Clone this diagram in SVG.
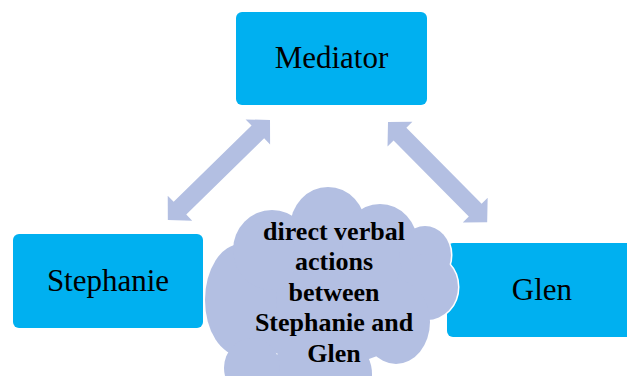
<svg xmlns="http://www.w3.org/2000/svg" xmlns:xlink="http://www.w3.org/1999/xlink" width="627" height="376" viewBox="0 0 627 376">
  <style>
    .box { fill: #00b0f0; }
    .label { font-family: "Liberation Serif", "Times New Roman", serif; font-size: 31px; fill: #000; text-anchor: middle; }
    .cloud-text { font-family: "Liberation Serif", "Times New Roman", serif; font-size: 26px; font-weight: bold; fill: #000; text-anchor: middle; }
    .arrow { fill: #b3bfe2; }
  </style>
  <defs>
    <!-- cloud built from overlapping lobes -->
    <g id="cloud-lobes">
      <ellipse cx="330" cy="290" rx="100" ry="75"/>
      <ellipse cx="241" cy="300" rx="36" ry="56"/>
      <ellipse cx="272" cy="250" rx="39" ry="40"/>
      <ellipse cx="328" cy="228" rx="38" ry="41"/>
      <ellipse cx="380" cy="245" rx="38" ry="41"/>
      <ellipse cx="425" cy="255" rx="26" ry="29"/>
      <ellipse cx="427" cy="287" rx="31" ry="33"/>
      <ellipse cx="396" cy="322" rx="34" ry="42"/>
      <ellipse cx="322" cy="374" rx="50" ry="44"/>
      <ellipse cx="252" cy="368" rx="28" ry="30"/>
    </g>
  </defs>

  <rect width="627" height="376" fill="#ffffff"/>

  <g id="node-mediator">
    <rect class="box" x="236" y="12" width="191" height="93" rx="6"/>
    <text class="label" x="331.5" y="68">Mediator</text>
  </g>

  <g id="node-stephanie">
    <rect class="box" x="13" y="234" width="190" height="94" rx="6"/>
    <text class="label" x="108" y="291">Stephanie</text>
  </g>

  <g id="node-glen">
    <rect class="box" x="447" y="243" width="190" height="94" rx="6"/>
    <text class="label" x="542" y="300">Glen</text>
  </g>

  <g id="connectors">
    <!-- double-headed block arrows, drawn along +x then rotated into place -->
    <path class="arrow" transform="translate(270,120) rotate(135.6)"
          d="M0,0 L17,-17.5 L17,-9 L126,-9 L126,-17.5 L143,0 L126,17.5 L126,9 L17,9 L17,17.5 Z"/>
    <path class="arrow" transform="translate(388,122) rotate(45.3)"
          d="M0,0 L17,-17.5 L17,-9 L124,-9 L124,-17.5 L141,0 L124,17.5 L124,9 L17,9 L17,17.5 Z"/>
  </g>

  <g id="node-cloud">
    <use xlink:href="#cloud-lobes" fill="#ffffff" stroke="#ffffff" stroke-width="3"/>
    <use xlink:href="#cloud-lobes" fill="#b3bfe2"/>
    <text class="cloud-text" x="334" y="240">direct verbal</text>
    <text class="cloud-text" x="334" y="270">actions</text>
    <text class="cloud-text" x="334" y="301">between</text>
    <text class="cloud-text" x="334" y="331">Stephanie and</text>
    <text class="cloud-text" x="334" y="362">Glen</text>
  </g>
</svg>
